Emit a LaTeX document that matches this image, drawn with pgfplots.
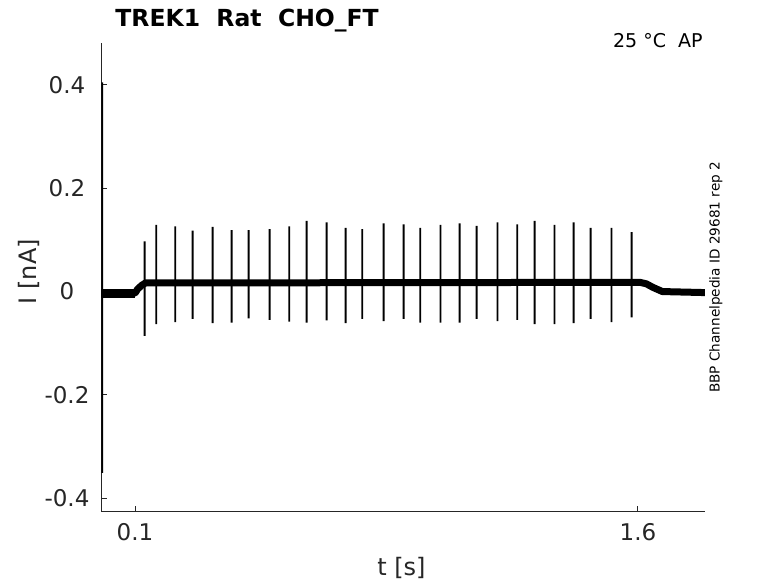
\documentclass[border=0pt]{standalone}
\usepackage{fontspec}
\setmainfont{DejaVu Sans}
\usepackage{pgfplots}
\pgfplotsset{compat=1.18}
\definecolor{mgray}{RGB}{38,38,38}
\begin{document}
\begin{tikzpicture}
\useasboundingbox (-50.75pt,-35.65pt) rectangle (338.25pt,255.85pt);
\begin{axis}[
  scale only axis, width=301.75pt, height=234.35pt,
  at={(0,0)}, anchor=south west,
  xmin=0, xmax=1.8, ymin=-0.426, ymax=0.481,
  axis lines*=left,
  axis line style={mgray, line width=0.5pt},
  tick style={mgray, line width=0.5pt},
  major tick length=3pt,
  tick align=inside,
  xtick={0.1,1.6}, xticklabels={0.1,1.6},
  ytick={-0.4,-0.2,0,0.2,0.4}, yticklabels={-0.4,-0.2,0,0.2,0.4},
  ticklabel style={font=\fontsize{11.5}{13}\selectfont, text=mgray, inner sep=0pt},
  xticklabel style={anchor=north, yshift=-5.5pt},
  yticklabel style={anchor=center, xshift=-17.25pt},
  xlabel={t [s]}, ylabel={I [nA]},
  label style={font=\fontsize{12}{14}\selectfont, text=mgray, inner sep=0pt},
  xlabel style={at={([yshift=-28.15pt] axis description cs:0.497,0)}, anchor=center},
  ylabel style={at={([xshift=-36.25pt] axis description cs:0,0.512)}, anchor=center},
  extra description/.code={
    \node[anchor=base west, inner sep=0pt, font=\bfseries\fontsize{11.75}{14}\selectfont]
      at ([xshift=6.75pt,yshift=8.15pt] axis description cs:0,1) {TREK1\ \ Rat\ \ CHO\_FT};
    \node[anchor=base east, inner sep=0pt, font=\fontsize{9.5}{11}\selectfont]
      at ([xshift=-1pt,yshift=-2.35pt] axis description cs:1,1) {25 °C\ \ AP};
    \node[rotate=90, anchor=center, inner sep=0pt, font=\fontsize{6.8}{8}\selectfont]
      at ([xshift=5.5pt] axis description cs:1,0.5) {BBP Channelpedia ID 29681 rep 2};
  },
]
% noisy baseline band (pre-step segment noisier)
\addplot[black, line width=4.5pt] coordinates {
  (0,-0.003) (0.100,-0.003)
};
\addplot[black, line width=3.5pt, line join=round] coordinates {
  (0,-0.003) (0.100,-0.003) (0.108,0.005) (0.120,0.012) (0.132,0.017)
  (0.6,0.017) (1.2,0.0175) (1.605,0.018) (1.625,0.015) (1.645,0.008)
  (1.673,0.000) (1.80,-0.002)
};
% initial transient and spikes
\addplot[black, line width=0.9pt] coordinates {
  (0.002,-0.003) (0.002,0.405) (0.002,-0.351) (0.002,-0.003)
  (0.100,-0.003) (0.1286,0.015)
  (0.1286,0.015) (0.1286,0.097) (0.1286,-0.086) (0.1286,0.016)
  (0.1635,0.017) (0.1635,0.129) (0.1635,-0.063) (0.1635,0.017)
  (0.2202,0.017) (0.2202,0.126) (0.2202,-0.059) (0.2202,0.017)
  (0.2718,0.017) (0.2718,0.118) (0.2718,-0.053) (0.2718,0.017)
  (0.3314,0.017) (0.3314,0.125) (0.3314,-0.061) (0.3314,0.017)
  (0.3881,0.017) (0.3881,0.119) (0.3881,-0.060) (0.3881,0.017)
  (0.4388,0.017) (0.4388,0.119) (0.4388,-0.052) (0.4388,0.017)
  (0.5014,0.017) (0.5014,0.121) (0.5014,-0.055) (0.5014,0.017)
  (0.5602,0.017) (0.5602,0.126) (0.5602,-0.058) (0.5602,0.017)
  (0.6118,0.017) (0.6118,0.137) (0.6118,-0.060) (0.6118,0.017)
  (0.6714,0.017) (0.6714,0.134) (0.6714,-0.056) (0.6714,0.017)
  (0.7281,0.017) (0.7281,0.123) (0.7281,-0.061) (0.7281,0.017)
  (0.7779,0.017) (0.7779,0.121) (0.7779,-0.053) (0.7779,0.017)
  (0.8414,0.017) (0.8414,0.132) (0.8414,-0.057) (0.8414,0.017)
  (0.9011,0.017) (0.9011,0.130) (0.9011,-0.053) (0.9011,0.017)
  (0.9509,0.017) (0.9509,0.123) (0.9509,-0.060) (0.9509,0.017)
  (1.0114,0.017) (1.0114,0.129) (1.0114,-0.060) (1.0114,0.017)
  (1.0681,0.017) (1.0681,0.132) (1.0681,-0.060) (1.0681,0.017)
  (1.1188,0.017) (1.1188,0.127) (1.1188,-0.053) (1.1188,0.017)
  (1.1814,0.017) (1.1814,0.134) (1.1814,-0.057) (1.1814,0.017)
  (1.2402,0.017) (1.2402,0.130) (1.2402,-0.055) (1.2402,0.017)
  (1.2918,0.017) (1.2918,0.137) (1.2918,-0.063) (1.2918,0.017)
  (1.3514,0.017) (1.3514,0.129) (1.3514,-0.063) (1.3514,0.017)
  (1.4081,0.017) (1.4081,0.134) (1.4081,-0.061) (1.4081,0.017)
  (1.4588,0.017) (1.4588,0.123) (1.4588,-0.053) (1.4588,0.017)
  (1.5214,0.017) (1.5214,0.123) (1.5214,-0.059) (1.5214,0.017)
  (1.5811,0.017) (1.5811,0.115) (1.5811,-0.050) (1.5811,0.017)
};
\end{axis}
\end{tikzpicture}
\end{document}
